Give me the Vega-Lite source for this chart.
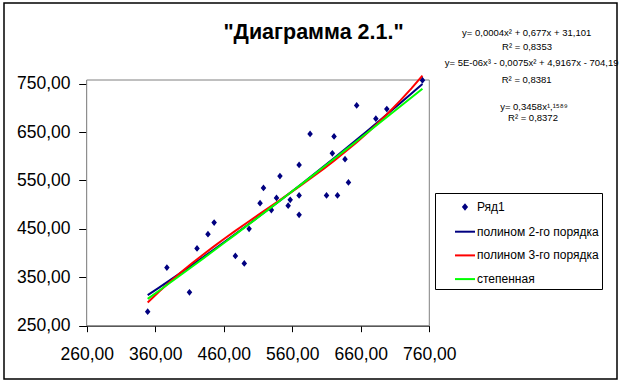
{
  "$schema": "https://vega.github.io/schema/vega-lite/v6.json",
  "width": 613,
  "height": 376,
  "autosize": {"type": "none"},
  "padding": {"left": 4, "top": 3, "right": 6, "bottom": 5},
  "background": "white",
  "title": {"text": "\"Диаграмма 2.1.\"", "font": "Liberation Sans", "fontSize": 21.5, "fontWeight": "bold", "color": "black", "anchor": "middle", "frame": "group", "offset": -40, "dx": 3},
  "config": {
    "view": {"stroke": "black", "strokeWidth": 1.5, "fill": "white"},
    "axis": {"grid": false, "domainColor": "black", "tickColor": "black", "labelColor": "black", "labelFont": "Liberation Sans", "labelFontSize": 17.5, "title": null}
  },
  "data": {"values": [
    {"x": 349, "y": 279}, {"x": 377, "y": 370}, {"x": 410, "y": 319}, {"x": 421, "y": 409.5},
    {"x": 437, "y": 439}, {"x": 446, "y": 463}, {"x": 477, "y": 394}, {"x": 490, "y": 378.5},
    {"x": 497, "y": 450}, {"x": 513, "y": 503}, {"x": 518, "y": 534.5}, {"x": 529.5, "y": 489},
    {"x": 537, "y": 514}, {"x": 542, "y": 559}, {"x": 554, "y": 498}, {"x": 557, "y": 510},
    {"x": 570, "y": 582}, {"x": 570, "y": 519}, {"x": 570, "y": 479}, {"x": 586, "y": 646},
    {"x": 610, "y": 519}, {"x": 618.5, "y": 606}, {"x": 621, "y": 641}, {"x": 626, "y": 519},
    {"x": 637, "y": 594}, {"x": 642, "y": 546}, {"x": 654, "y": 705}, {"x": 682, "y": 677.5},
    {"x": 698, "y": 697.5}, {"x": 750, "y": 757}
  ]},
  "layer": [
    {
      "transform": [{"aggregate": [{"op": "count", "as": "n"}]}],
      "mark": {"type": "rect", "fill": "white", "stroke": "#808080", "strokeWidth": 1},
      "encoding": {
        "x": {"datum": 260, "type": "quantitative", "scale": {"domain": [260, 760], "range": [82.7, 425.3], "nice": false, "zero": false}},
        "x2": {"datum": 760},
        "y": {"datum": 250, "type": "quantitative", "scale": {"domain": [250, 757.5], "range": [322.7, 77], "nice": false, "zero": false}},
        "y2": {"datum": 757.5}
      }
    },
    {
      "mark": {"type": "point", "filled": false, "fill": "#000080", "strokeWidth": 1.5, "size": 400, "opacity": 1},
      "encoding": {
        "x": {"field": "x", "type": "quantitative",
          "scale": {"domain": [260, 760], "range": [82.7, 425.3], "nice": false, "zero": false},
          "axis": {"values": [260, 360, 460, 560, 660, 760], "offset": -53.3, "tickSize": 6, "labelPadding": 14, "labelExpr": "replace(format(datum.value, '.2f'), '.', ',')", "labelFlush": false, "labelOverlap": false}},
        "y": {"field": "y", "type": "quantitative",
          "scale": {"domain": [250, 757.5], "range": [322.7, 77], "nice": false, "zero": false},
          "axis": {"values": [250, 350, 450, 550, 650, 750], "offset": -82.7, "tickSize": 8, "labelPadding": 8.7, "labelExpr": "replace(format(datum.value, '.2f'), '.', ',')", "labelFlush": false, "labelOverlap": false}},
        "color": {"datum": "Ряд1", "type": "nominal",
          "scale": {"domain": ["Ряд1", "полином 2-го порядка", "полином 3-го порядка", "степенная"], "range": ["#000080", "#000080", "#FF0000", "#00FF00"]},
          "legend": {"title": null, "orient": "none", "legendX": 431, "legendY": 190, "padding": 3, "strokeColor": "black", "fillColor": "white",
            "labelFont": "Liberation Sans", "labelFontSize": 12, "labelColor": "black", "labelOffset": 1, "symbolOffset": 16, "rowPadding": 6.7, "symbolSize": 400, "symbolStrokeWidth": 2, "symbolOpacity": 1}},
        "shape": {"datum": "Ряд1", "type": "nominal",
          "scale": {"domain": ["Ряд1", "полином 2-го порядка", "полином 3-го порядка", "степенная"], "range": ["M-0.18,0L0,-0.22L0.18,0L0,0.22Z", "M-1,0H1", "M-1,0H1", "M-1,0H1"]},
          "legend": {"title": null, "orient": "none", "legendX": 431, "legendY": 190, "padding": 3, "strokeColor": "black", "fillColor": "white",
            "labelFont": "Liberation Sans", "labelFontSize": 12, "labelColor": "black", "labelOffset": 1, "symbolOffset": 16, "rowPadding": 6.7, "symbolSize": 400, "symbolStrokeWidth": 2, "symbolOpacity": 1}}
      }
    },
    {
      "transform": [{"regression": "y", "on": "x", "method": "poly", "order": 2}],
      "mark": {"type": "line", "strokeWidth": 2},
      "encoding": {
        "x": {"field": "x", "type": "quantitative", "scale": {"domain": [260, 760], "range": [82.7, 425.3], "nice": false, "zero": false}},
        "y": {"field": "y", "type": "quantitative", "scale": {"domain": [250, 757.5], "range": [322.7, 77], "nice": false, "zero": false}},
        "color": {"datum": "полином 2-го порядка", "type": "nominal"}}
    },
    {
      "transform": [{"regression": "y", "on": "x", "method": "poly", "order": 3}],
      "mark": {"type": "line", "strokeWidth": 2},
      "encoding": {
        "x": {"field": "x", "type": "quantitative", "scale": {"domain": [260, 760], "range": [82.7, 425.3], "nice": false, "zero": false}},
        "y": {"field": "y", "type": "quantitative", "scale": {"domain": [250, 757.5], "range": [322.7, 77], "nice": false, "zero": false}},
        "color": {"datum": "полином 3-го порядка", "type": "nominal"}}
    },
    {
      "transform": [{"regression": "y", "on": "x", "method": "pow"}],
      "mark": {"type": "line", "strokeWidth": 2},
      "encoding": {
        "x": {"field": "x", "type": "quantitative", "scale": {"domain": [260, 760], "range": [82.7, 425.3], "nice": false, "zero": false}},
        "y": {"field": "y", "type": "quantitative", "scale": {"domain": [250, 757.5], "range": [322.7, 77], "nice": false, "zero": false}},
        "color": {"datum": "степенная", "type": "nominal"}}
    },
    {
      "transform": [{"aggregate": [{"op": "count", "as": "n"}]}],
      "mark": {"type": "text", "font": "Liberation Sans", "fontSize": 9.5, "fill": "black", "align": "center", "baseline": "middle"},
      "encoding": {"x": {"datum": 902.1, "type": "quantitative"}, "y": {"datum": 854.6, "type": "quantitative"}, "text": {"value": "y= 0,0004x² + 0,677x + 31,101"}}
    },
    {
      "transform": [{"aggregate": [{"op": "count", "as": "n"}]}],
      "mark": {"type": "text", "font": "Liberation Sans", "fontSize": 9.5, "fill": "black", "align": "center", "baseline": "middle"},
      "encoding": {"x": {"datum": 902.6, "type": "quantitative"}, "y": {"datum": 825.7, "type": "quantitative"}, "text": {"value": "R² = 0,8353"}}
    },
    {
      "transform": [{"aggregate": [{"op": "count", "as": "n"}]}],
      "mark": {"type": "text", "font": "Liberation Sans", "fontSize": 9.5, "fill": "black", "align": "center", "baseline": "middle"},
      "encoding": {"x": {"datum": 909.4, "type": "quantitative"}, "y": {"datum": 792.7, "type": "quantitative"}, "text": {"value": "y= 5E-06x³ - 0,0075x² + 4,9167x - 704,19"}}
    },
    {
      "transform": [{"aggregate": [{"op": "count", "as": "n"}]}],
      "mark": {"type": "text", "font": "Liberation Sans", "fontSize": 9.5, "fill": "black", "align": "center", "baseline": "middle"},
      "encoding": {"x": {"datum": 902.1, "type": "quantitative"}, "y": {"datum": 757.5, "type": "quantitative"}, "text": {"value": "R² = 0,8381"}}
    },
    {
      "transform": [{"aggregate": [{"op": "count", "as": "n"}]}],
      "mark": {"type": "text", "font": "Liberation Sans", "fontSize": 9.5, "fill": "black", "align": "center", "baseline": "middle"},
      "encoding": {"x": {"datum": 912.8, "type": "quantitative"}, "y": {"datum": 701.8, "type": "quantitative"}, "text": {"value": "y= 0,3458x¹,¹⁵⁸⁹"}}
    },
    {
      "transform": [{"aggregate": [{"op": "count", "as": "n"}]}],
      "mark": {"type": "text", "font": "Liberation Sans", "fontSize": 9.5, "fill": "black", "align": "center", "baseline": "middle"},
      "encoding": {"x": {"datum": 911.3, "type": "quantitative"}, "y": {"datum": 679, "type": "quantitative"}, "text": {"value": "R² = 0,8372"}}
    }
  ]
}
